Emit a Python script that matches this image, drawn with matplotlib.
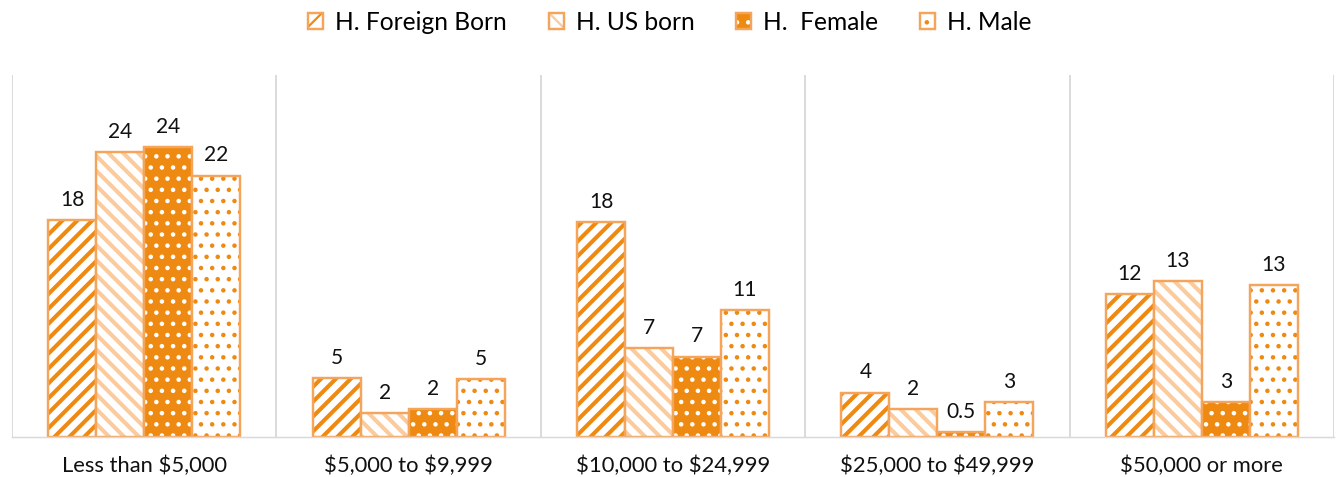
import matplotlib.pyplot as plt
from matplotlib.patches import Patch

categories = ['Less than $5,000', '$5,000 to $9,999', '$10,000 to $24,999',
              '$25,000 to $49,999', '$50,000 or more']
series = ['H. Foreign Born', 'H. US born', 'H.  Female', 'H. Male']

# bar heights, labels as printed on the chart
foreign = [18.1, 4.9, 17.9, 3.7, 11.9]
us_born = [23.8, 2.0, 7.4, 2.3, 13.0]
female = [24.2, 2.3, 6.7, 0.4, 2.9]
male = [21.8, 4.8, 10.6, 2.9, 12.7]
foreign_lbl = ['18', '5', '18', '4', '12']
us_born_lbl = ['24', '2', '7', '2', '13']
female_lbl = ['24', '2', '7', '0.5', '3']
male_lbl = ['22', '5', '11', '3', '13']

dark = '#EE8A12'
light = '#FBCB9E'
border = '#F5A55A'

# (face, hatch colour, hatch, hatch linewidth)
styles = [
    ('white', dark, '///', 2.2),
    ('white', light, '\\\\\\', 2.2),
    (dark, 'white', '..', 1.2),
    ('white', dark, '..', 1.2),
]

plt.rcParams['font.family'] = ['Lato', 'DejaVu Sans']
plt.rcParams['text.parse_math'] = False

DPI = 134
fig = plt.figure(figsize=(1340 / DPI, 477 / DPI), dpi=DPI)
ax = fig.add_axes([12 / 1340, 40 / 477, 1322 / 1340, 362 / 477])


def hatch_lw(artist, lw):
    # keep this artist's hatch linewidth also while it draws
    if hasattr(artist, 'set_hatch_linewidth'):
        artist.set_hatch_linewidth(lw)
    orig = artist.draw

    def draw(renderer):
        with plt.rc_context({'hatch.linewidth': lw}):
            orig(renderer)
    artist.draw = draw
    return artist


width = 0.1815
data = [foreign, us_born, female, male]
labels = [foreign_lbl, us_born_lbl, female_lbl, male_lbl]
handles = []
for k in range(4):
    face, hcol, hatch, hlw = styles[k]
    plt.rcParams['hatch.linewidth'] = hlw
    xs = [i + 0.5 + (k - 1.5) * width for i in range(len(categories))]
    bars = ax.bar(xs, data[k], width, color=face, edgecolor=hcol, hatch=hatch, linewidth=0)
    for b in bars:
        hatch_lw(b, hlw)
    ax.bar(xs, data[k], width, fill=False, edgecolor=border, linewidth=1.3)
    for x, v, t in zip(xs, data[k], labels[k]):
        ax.text(x, v + 0.85, t, ha='center', va='bottom', fontsize=11.3, color='#111111')
    plt.rcParams['hatch.linewidth'] = 1.2
    small = hatch.replace('///', '//').replace('\\\\\\', '\\\\')
    handles.append((hatch_lw(Patch(facecolor=face, edgecolor=hcol, hatch=small, linewidth=0), 1.2),
                    Patch(fill=False, edgecolor=border, linewidth=1.3)))

for i in range(len(categories) + 1):
    ax.axvline(i, color='#D9D9D9', linewidth=1)

ax.set_xlim(0, 5)
ax.set_ylim(0, 30.2)
ax.set_yticks([])
ax.set_xticks([i + 0.5 for i in range(len(categories))])
ax.set_xticklabels(categories, fontsize=11.8, color='#111111')
ax.tick_params(axis='x', length=0, pad=10)
for s in ['top', 'left', 'right']:
    ax.spines[s].set_visible(False)
ax.spines['bottom'].set_color('#D9D9D9')

plt.rcParams['hatch.linewidth'] = 1.2
leg = fig.legend(handles, series, loc='center', bbox_to_anchor=(0.5, 1 - 22 / 477), ncol=4,
                 frameon=False, fontsize=13.2, handlelength=0.6, handleheight=0.6,
                 handletextpad=0.5, columnspacing=1.7)
hatch_lw(leg, 1.2)

fig.savefig('out.png', dpi=DPI)
